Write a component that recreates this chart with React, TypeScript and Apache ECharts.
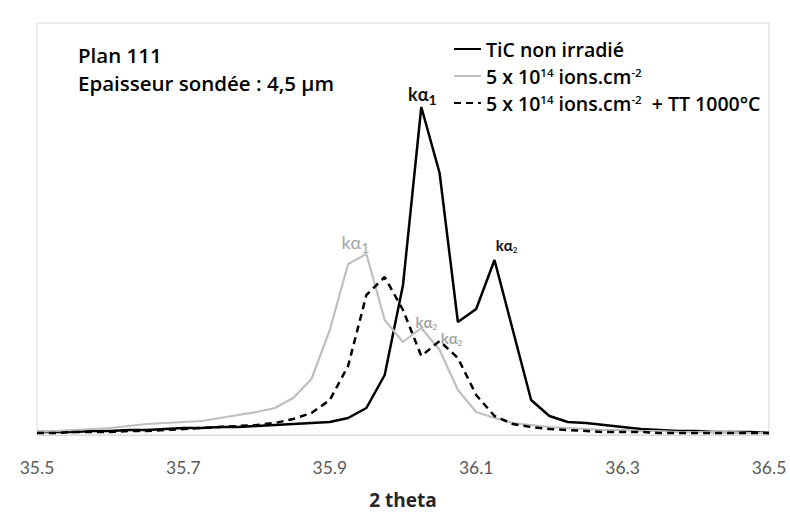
import React, { useEffect, useRef } from "react";
import * as echarts from "echarts";

const theta = [35.5, 35.525, 35.55, 35.575, 35.6, 35.625, 35.65, 35.675, 35.7, 35.725, 35.75, 35.775, 35.8, 35.825, 35.85, 35.875, 35.9, 35.925, 35.95, 35.975, 36.0, 36.025, 36.05, 36.075, 36.1, 36.125, 36.15, 36.175, 36.2, 36.225, 36.25, 36.275, 36.3, 36.325, 36.35, 36.375, 36.4, 36.425, 36.45, 36.475, 36.5];

const ticNonIrradie = [3, 3, 3, 4, 4, 5, 5, 6, 7, 7, 8, 8, 9, 10, 11, 12, 13, 17, 27, 60, 150, 328, 262, 113, 126, 175, 105, 35, 19, 13, 12, 10, 8, 6, 5, 4, 4, 3, 3, 3, 2];

const irradie = [3, 4, 5, 6, 7, 9, 11, 12, 13, 14, 17, 20, 23, 27, 37, 56, 105, 171, 181, 115, 93, 107, 85, 45, 23, 17, 12, 10, 8, 7, 6, 5, 5, 4, 4, 3, 3, 3, 3, 2, 2];

const irradieTT = [2, 2, 3, 3, 3, 4, 4, 5, 6, 7, 8, 9, 10, 12, 16, 22, 35, 69, 140, 158, 125, 79, 94, 77, 40, 19, 11, 8, 6, 5, 4, 3, 3, 3, 2, 2, 2, 2, 2, 2, 2];

const seriesNames = ["TiC non irradié", "irr", "irrTT"];
const xTicks = [35.5, 35.7, 35.9, 36.1, 36.3, 36.5];

const FONT = "Lato, 'Open Sans', sans-serif";
const FONT2 = "'Open Sans', Lato, sans-serif";

const pairs = (ys: number[]) => theta.map((t, i) => [t, ys[i]]);

export default function App() {
  const ref = useRef<HTMLDivElement>(null);
  useEffect(() => {
    if (!ref.current) return;
    const chart = echarts.init(ref.current, null, { renderer: "svg" });
    const supRich = {
      t: { fontSize: 19.5, fontWeight: 600, color: "#000", fontFamily: FONT2, lineHeight: 22, verticalAlign: "middle" },
      s: { fontSize: 11.5, fontWeight: 600, color: "#000", fontFamily: FONT2, lineHeight: 22, verticalAlign: "top", padding: [1, 0, 0, 0] },
    };
    const mp = (coord: number[], text: string, offset: number[], rich: any) => ({
      coord,
      symbol: "circle",
      symbolSize: 0,
      label: { show: true, position: "inside", offset, formatter: text, rich },
    });
    const blackBig = {
      a: { fontSize: 18, fontWeight: "bold", color: "#111", fontFamily: FONT, verticalAlign: "bottom", lineHeight: 20 },
      b: { fontSize: 14, fontWeight: "bold", color: "#111", fontFamily: FONT, verticalAlign: "bottom", lineHeight: 20, padding: [0, 0, -3, 0] },
    };
    const blackSmall = {
      a: { fontSize: 15, fontWeight: "bold", color: "#111", fontFamily: FONT, verticalAlign: "bottom", lineHeight: 18 },
      b: { fontSize: 8, fontWeight: "bold", color: "#111", fontFamily: FONT, verticalAlign: "bottom", lineHeight: 18, padding: [0, 0, -2, 0] },
    };
    const grayBig = {
      a: { fontSize: 18, color: "#a6a6a6", fontFamily: FONT, verticalAlign: "bottom", lineHeight: 20 },
      b: { fontSize: 14, color: "#a6a6a6", fontFamily: FONT, verticalAlign: "bottom", lineHeight: 20, padding: [0, 0, -3, 0] },
    };
    const graySmall = {
      a: { fontSize: 15, fontWeight: "bold", color: "#a6a6a6", fontFamily: FONT, verticalAlign: "bottom", lineHeight: 18 },
      b: { fontSize: 8, fontWeight: "bold", color: "#a6a6a6", fontFamily: FONT, verticalAlign: "bottom", lineHeight: 18, padding: [0, 0, -2, 0] },
    };
    chart.setOption({
      animation: false,
      backgroundColor: "#fff",
      grid: { left: 37, right: 21, top: 23, bottom: 82, show: true, borderColor: "#d9d9d9", borderWidth: 1 },
      legend: {
        left: 448,
        top: 34,
        orient: "vertical",
        itemWidth: 27,
        itemHeight: 14,
        itemGap: 6,
        selectedMode: false,
        data: seriesNames,
        itemStyle: { color: "rgba(0,0,0,0)", borderWidth: 0, opacity: 0 },
        formatter: (name: string) => {
          if (name === "irr") return "{t|5 x 10}{s|14}{t| ions.cm}{s|-2}";
          if (name === "irrTT") return "{t|5 x 10}{s|14}{t| ions.cm}{s|-2}{t|  + TT 1000°C}";
          return "{t|" + name + "}";
        },
        textStyle: { rich: supRich, fontFamily: FONT2 },
      },
      xAxis: {
        type: "value",
        min: 35.5,
        max: 36.5,
        interval: 0.2,
        axisLine: { show: true, lineStyle: { color: "#d9d9d9", width: 1 } },
        axisTick: { show: false },
        splitLine: { show: false },
        axisLabel: {
          margin: 23,
          fontSize: 17.5,
          color: "#595959",
          fontFamily: FONT,
          formatter: (v: number) => {
            const m = xTicks.find((t) => Math.abs(t - v) < 1e-6);
            return m !== undefined ? m.toFixed(1) : "";
          },
        },
        name: "2 theta",
        nameLocation: "middle",
        nameGap: 55,
        nameTextStyle: { fontSize: 19, fontWeight: "bold", color: "#262626", fontFamily: FONT2 },
      },
      yAxis: {
        type: "value",
        min: 0,
        max: 412,
        show: true,
        axisLine: { show: false },
        axisTick: { show: false },
        axisLabel: { show: false },
        splitLine: { show: false },
      },
      graphic: [
        {
          type: "text",
          left: 78,
          top: 44,
          style: { text: "Plan 111", fontSize: 20.5, fontWeight: 600, fill: "#000", fontFamily: FONT2 },
        },
        {
          type: "text",
          left: 78,
          top: 72,
          style: { text: "Epaisseur sondée : 4,5 µm", fontSize: 20.5, fontWeight: 600, fill: "#000", fontFamily: FONT2 },
        },
      ],
      series: [
        {
          name: seriesNames[0],
          type: "line",
          data: pairs(ticNonIrradie),
          symbol: "none",
          lineStyle: { color: "#000", width: 2.5 },
          itemStyle: { color: "#000" },
          markPoint: {
            data: [
              mp([36.025, 328], "{a|kα}{b|1}", [1, -14], blackBig),
              mp([36.125, 175], "{a|kα}{b|2}", [12, -17], blackSmall),
            ],
          },
        },
        {
          name: seriesNames[1],
          type: "line",
          data: pairs(irradie),
          symbol: "none",
          lineStyle: { color: "#bfbfbf", width: 2.2 },
          itemStyle: { color: "#bfbfbf" },
          markPoint: {
            data: [
              mp([35.95, 181], "{a|kα}{b|1}", [-11, -13], grayBig),
              mp([36.025, 107], "{a|kα}{b|2}", [5, -8], graySmall),
            ],
          },
        },
        {
          name: seriesNames[2],
          type: "line",
          data: pairs(irradieTT),
          symbol: "none",
          lineStyle: { color: "#000", width: 2.5, type: [7, 5] },
          itemStyle: { color: "#000" },
          markPoint: {
            data: [mp([36.05, 94], "{a|kα}{b|2}", [12, -5], graySmall)],
          },
        },
      ],
    });
    return () => chart.dispose();
  }, []);
  return (
    <div
      ref={ref}
      style={{ position: "fixed", left: 0, top: 0, width: 790, height: 517, background: "#fff" }}
    />
  );
}
